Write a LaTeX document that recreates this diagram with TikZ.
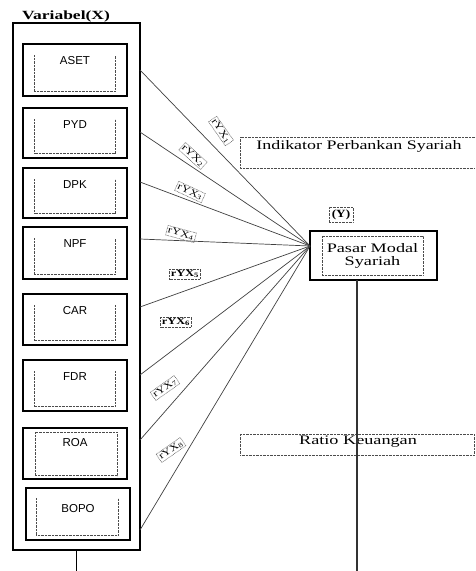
\documentclass[tikz,border=0pt]{standalone}
\usepackage{fontspec}
\setmainfont{Liberation Serif}
\setsansfont{Liberation Sans}
\usepackage{graphicx}
\begin{document}
\begin{tikzpicture}[x=1pt,y=-1pt,
  outerbox/.style={draw, line width=1.6pt, minimum width=127pt, minimum height=527pt, inner sep=0pt},
  varbox/.style={draw, line width=1.6pt, minimum width=104pt, inner sep=0pt, anchor=north},
  vartext/.style={font=\sffamily\fontsize{11.5}{12}\selectfont, inner sep=0pt},
  dotline/.style={draw=black!70, line width=0.5pt, dash pattern=on 0.7pt off 0.7pt},
  conn/.style={draw=black!75, line width=0.7pt},
  rlabel/.style={dotline, inner sep=1.2pt, font=\fontsize{9.5}{9.5}\selectfont},
  sertext/.style={font=\fontsize{13}{15}\selectfont, inner sep=0pt}
]
\useasboundingbox (0,0) rectangle (475,571);

% title
\node[font=\bfseries\fontsize{12.5}{12.5}\selectfont, inner sep=0pt] (title) at (66,16) {\scalebox{1.4}[1]{Variabel(X)}};

% outer box
\node[outerbox] (outer) at (76.5,286.5) {};
\draw[line width=1.1pt] (outer.south) -- ++(0,21) coordinate (outend);

% inner variable boxes (three-sided dotted inner frame)
\foreach \nm/\tp/\ht/\tx in {aset/43/52/ASET, pyd/107/50/PYD, dpk/167/50/DPK, npf/226/52/NPF, car/293/51/CAR, fdr/359/51/FDR}{
  \node[varbox, minimum height=\ht pt] (\nm) at (75,\tp) {};
  \node[vartext] (\nm-t) at ([yshift=-21.5pt]\nm.north) {\tx};
  \draw[dotline] ([xshift=12pt,yshift=-12pt]\nm.north west) |- ([xshift=-13pt,yshift=5pt]\nm.south east) -- ([xshift=-13pt,yshift=-12pt]\nm.north east);
}
% ROA
\node[varbox, minimum height=51pt] (roa) at (75,427) {};
\node[vartext] (roa-t) at ([yshift=-16pt]roa.north) {ROA};
\draw[dotline] ([xshift=13pt,yshift=-5pt]roa.north west) rectangle ([xshift=-11pt,yshift=4pt]roa.south east);
% BOPO
\node[varbox, minimum height=52pt] (bopo) at (78,487) {};
\node[vartext] (bopo-t) at ([yshift=-21.5pt]bopo.north) {BOPO};
\draw[dotline] ([xshift=11pt,yshift=-11pt]bopo.north west) |- ([xshift=-13pt,yshift=5pt]bopo.south east) -- ([xshift=-13pt,yshift=-11pt]bopo.north east);

% dependent variable
\node[draw, line width=1.6pt, minimum width=127pt, minimum height=49pt, inner sep=0pt] (pasar) at (373.5,255.5) {};
\node[dotline, minimum width=101pt, minimum height=39pt, inner sep=0pt, align=center, font=\fontsize{13}{13}\selectfont] (pasar-in) at (372.5,255.5) {\scalebox{1.4}[1]{Pasar Modal}\\[0pt]\scalebox{1.4}[1]{Syariah}};
\node[dotline, minimum width=24pt, minimum height=15pt, inner sep=0pt, font=\bfseries\fontsize{11}{11}\selectfont] (ylab) at (341,214.5) {\scalebox{1.2}[1]{(Y)}};

% connectors
\coordinate (hub) at (310,246);
\foreach \i/\yy in {1/70,2/132,3/182,4/239,5/307,6/375,7/440,8/530}{
  \coordinate (s\i) at (140,\yy);
  \draw[conn] (s\i) -- (hub);
}

% vertical line from Y
\coordinate (ptop) at (357,280);
\coordinate (pend) at (357,571);

% annotation boxes
\draw[dotline] (475,137) -- (240,137) -- (240,168) -- (475,168);
\node[sertext] (indik) at (359,146) {\scalebox{1.38}[1]{Indikator Perbankan Syariah}};
\node[dotline, minimum width=234pt, minimum height=21pt, inner sep=0pt, anchor=north west] (ratio) at (240,434) {};
\node[sertext] (ratio-t) at (358,441.5) {\scalebox{1.4}[1]{Ratio Keuangan}};

\draw[line width=1.3pt, black!80] (ptop) -- (pend);

% path labels
\node[rlabel, rotate=-55] (r1) at (221,131) {\scalebox{1.3}[1]{rYX\textsubscript{1}}};
\node[rlabel, rotate=-42] (r2) at (193,156) {\scalebox{1.3}[1]{rYX\textsubscript{2}}};
\node[rlabel, rotate=-25] (r3) at (190,192) {\scalebox{1.3}[1]{rYX\textsubscript{3}}};
\node[rlabel, rotate=-15] (r4) at (181,234) {\scalebox{1.3}[1]{rYX\textsubscript{4}}};
\node[rlabel, font=\bfseries\fontsize{9.5}{9.5}\selectfont] (r5) at (185,274) {\scalebox{1.3}[1]{rYX\textsubscript{5}}};
\node[rlabel, font=\bfseries\fontsize{9.5}{9.5}\selectfont] (r6) at (176,322) {\scalebox{1.3}[1]{rYX\textsubscript{6}}};
\node[rlabel, rotate=35] (r7) at (165,388) {\scalebox{1.3}[1]{rYX\textsubscript{7}}};
\node[rlabel, rotate=35] (r8) at (171,450) {\scalebox{1.3}[1]{rYX\textsubscript{8}}};
\end{tikzpicture}
\end{document}
